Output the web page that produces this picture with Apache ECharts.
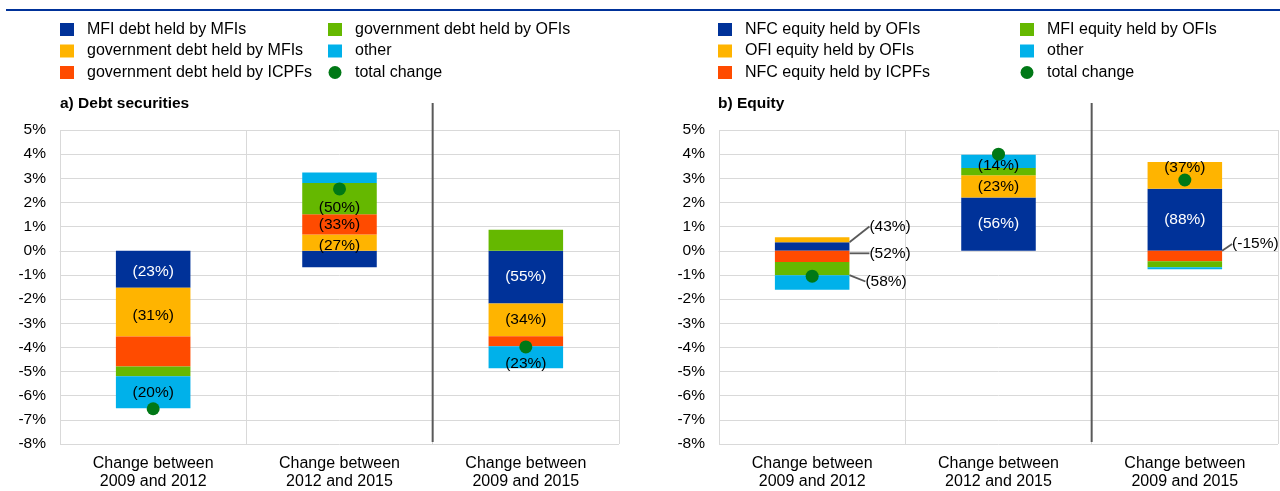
<!DOCTYPE html>
<html lang="en">
<head>
<meta charset="UTF-8">
<title>Debt securities and equity holdings</title>
<script src="https://cdn.jsdelivr.net/npm/echarts@6/dist/echarts.min.js"></script>
<style>
  html, body { margin: 0; padding: 0; background: #fff; }
  #chart { width: 1280px; height: 491px; }
</style>
</head>
<body>
<div id="chart"></div>
<script>
// categories and axis range
var periods = ['Change between\n2009 and 2012', 'Change between\n2012 and 2015', 'Change between\n2009 and 2015'];
var yMin = -8, yMax = 5, yStep = 1;

// a) Debt securities (percentage points)
var debtMfiByMfi   = [-1.53, -0.68, -2.18];
var debtGovByMfi   = [-2.02,  0.67, -1.36];
var debtGovByIcpf  = [-1.24,  0.84, -0.41];
var debtGovByOfi   = [-0.41,  1.30,  0.87];
var debtOther      = [-1.32,  0.43, -0.91];
var debtTotal      = [-6.54,  2.56, -3.98];
var debtMfiByMfiLbl  = ['(23%)', '', '(55%)'];
var debtGovByMfiLbl  = ['(31%)', '(27%)', '(34%)'];
var debtGovByIcpfLbl = ['', '(33%)', ''];
var debtGovByOfiLbl  = ['', '(50%)', ''];
var debtOtherLbl     = ['(20%)', '', '(23%)'];

// b) Equity (percentage points)
var eqNfcByOfi   = [ 0.35, 2.21,  2.57];
var eqOfiByOfi   = [ 0.21, 0.92,  1.10];
var eqNfcByIcpf  = [-0.46, 0.00, -0.43];
var eqMfiByOfi   = [-0.55, 0.30, -0.25];
var eqOther      = [-0.60, 0.55, -0.08];
var eqTotal      = [-1.05, 4.00,  2.93];
var eqNfcByOfiLbl  = ['(43%)', '(56%)', '(88%)'];
var eqOfiByOfiLbl  = ['', '(23%)', '(37%)'];
var eqNfcByIcpfLbl = ['(52%)', '', '(-15%)'];
var eqMfiByOfiLbl  = ['(58%)', '', ''];
var eqOtherLbl     = ['', '(14%)', ''];

var C = {
  blue: '#003299', yellow: '#FFB400', orange: '#FF4B00',
  green: '#65B800', cyan: '#00B1EA', dot: '#007816'
};
var FONT = '"Liberation Sans", Arial, sans-serif';

// small vertical nudges for labels sitting off-centre, and leader-line labels
var nudge = { 'dgm-1': 3, 'dgo-1': 9, 'dot-2': 7, 'eoo-2': -8, 'eot-1': 4, 'dmm-0': 2, 'dgm-0': 4 };
var leaders = { 'enb-0': [16, -20], 'eni-0': [16, -3], 'emo-0': [12, 13], 'eni-2': [6, -12] };

function barSeries(key, name, grid, values, labels, color, txt) {
  return {
    name: name, type: 'bar', xAxisIndex: grid, yAxisIndex: grid,
    stack: grid === 0 ? 'debt' : 'equity', barWidth: '40%',
    itemStyle: { color: color },
    labelLayout: function (p) {
      var k = key + '-' + p.dataIndex;
      if (leaders[k]) return { dx: leaders[k][0], dy: leaders[k][1] };
      return nudge[k] ? { dy: nudge[k] } : {};
    },
    data: values.map(function (v, i) {
      var item = { value: v };
      var isLeader = !!leaders[key + '-' + i];
      item.label = {
        show: !!labels[i], formatter: labels[i],
        position: isLeader ? 'right' : 'inside', distance: 4,
        color: isLeader ? '#000' : txt,
        fontSize: 15.5, fontFamily: FONT
      };
      if (isLeader) item.labelLine = { show: true, lineStyle: { color: '#595959', width: 1.8 } };
      return item;
    })
  };
}

function dotSeries(grid, values) {
  return {
    name: 'total change', type: 'scatter', xAxisIndex: grid, yAxisIndex: grid,
    symbol: 'circle', symbolSize: 13, z: 5,
    itemStyle: { color: C.dot, opacity: 1 }, data: values
  };
}

var grids = [
  { left: 60, top: 130, width: 559, height: 315 },
  { left: 719, top: 130, width: 559, height: 315 }
];

function legendCol(left, names, icons) {
  return {
    left: left, top: 21.5, orient: 'vertical', padding: 0, itemGap: 5.5,
    itemWidth: 14, itemHeight: 13, selectedMode: false,
    itemStyle: { opacity: 1 },
    textStyle: { fontSize: 16, lineHeight: 16, color: '#000', fontFamily: FONT, padding: [0, 0, 0, 8] },
    data: names.map(function (n, i) { return { name: n, icon: icons[i] }; })
  };
}

var xAxes = [0, 1].map(function (g) {
  return {
    type: 'category', gridIndex: g, data: periods,
    axisLine: { lineStyle: { color: '#d9d9d9' } }, axisTick: { show: false },
    splitLine: { show: true, lineStyle: { color: '#d9d9d9' } },
    axisLabel: { color: '#000', fontSize: 16, lineHeight: 18, margin: 11, fontFamily: FONT, interval: 0 }
  };
});
var yAxes = [0, 1].map(function (g) {
  return {
    type: 'value', gridIndex: g, min: yMin, max: yMax, interval: yStep,
    axisLine: { show: false }, axisTick: { show: false },
    splitLine: { lineStyle: { color: '#d9d9d9' } },
    axisLabel: { color: '#000', fontSize: 15.5, margin: 14, padding: [3, 0, 0, 0], fontFamily: FONT, formatter: '{value}%' }
  };
});

// dark separators between the sub-period and full-period bars
var graphics = [{
  type: 'line', shape: { x1: 6, y1: 10, x2: 1280, y2: 10 },
  style: { stroke: C.blue, lineWidth: 2 }
}];
grids.forEach(function (g) {
  var x = g.left + g.width * 2 / 3;
  graphics.push({
    type: 'line', shape: { x1: x, y1: 103, x2: x, y2: 442 },
    style: { stroke: '#595959', lineWidth: 2 }, z: 10
  });
});

var chart = echarts.init(document.getElementById('chart'));
chart.setOption({
  animation: false,
  title: [
    { text: 'a) Debt securities', left: 60, top: 96, padding: 0,
      textStyle: { fontSize: 15.5, fontWeight: 'bold', color: '#000', fontFamily: FONT } },
    { text: 'b) Equity', left: 718, top: 96, padding: 0,
      textStyle: { fontSize: 15.5, fontWeight: 'bold', color: '#000', fontFamily: FONT } }
  ],
  legend: [
    legendCol(60, ['MFI debt held by MFIs', 'government debt held by MFIs', 'government debt held by ICPFs'], ['rect', 'rect', 'rect']),
    legendCol(328, ['government debt held by OFIs', 'other', 'total change'], ['rect', 'rect', 'circle']),
    legendCol(718, ['NFC equity held by OFIs', 'OFI equity held by OFIs', 'NFC equity held by ICPFs'], ['rect', 'rect', 'rect']),
    legendCol(1020, ['MFI equity held by OFIs', 'other', 'total change'], ['rect', 'rect', 'circle'])
  ],
  grid: grids,
  xAxis: xAxes,
  yAxis: yAxes,
  graphic: graphics,
  series: [
    barSeries('dmm', 'MFI debt held by MFIs', 0, debtMfiByMfi, debtMfiByMfiLbl, C.blue, '#fff'),
    barSeries('dgm', 'government debt held by MFIs', 0, debtGovByMfi, debtGovByMfiLbl, C.yellow, '#000'),
    barSeries('dgi', 'government debt held by ICPFs', 0, debtGovByIcpf, debtGovByIcpfLbl, C.orange, '#000'),
    barSeries('dgo', 'government debt held by OFIs', 0, debtGovByOfi, debtGovByOfiLbl, C.green, '#000'),
    barSeries('dot', 'other', 0, debtOther, debtOtherLbl, C.cyan, '#000'),
    dotSeries(0, debtTotal),
    barSeries('enb', 'NFC equity held by OFIs', 1, eqNfcByOfi, eqNfcByOfiLbl, C.blue, '#fff'),
    barSeries('eoo', 'OFI equity held by OFIs', 1, eqOfiByOfi, eqOfiByOfiLbl, C.yellow, '#000'),
    barSeries('eni', 'NFC equity held by ICPFs', 1, eqNfcByIcpf, eqNfcByIcpfLbl, C.orange, '#000'),
    barSeries('emo', 'MFI equity held by OFIs', 1, eqMfiByOfi, eqMfiByOfiLbl, C.green, '#000'),
    barSeries('eot', 'other', 1, eqOther, eqOtherLbl, C.cyan, '#000'),
    dotSeries(1, eqTotal)
  ]
});
</script>
</body>
</html>
